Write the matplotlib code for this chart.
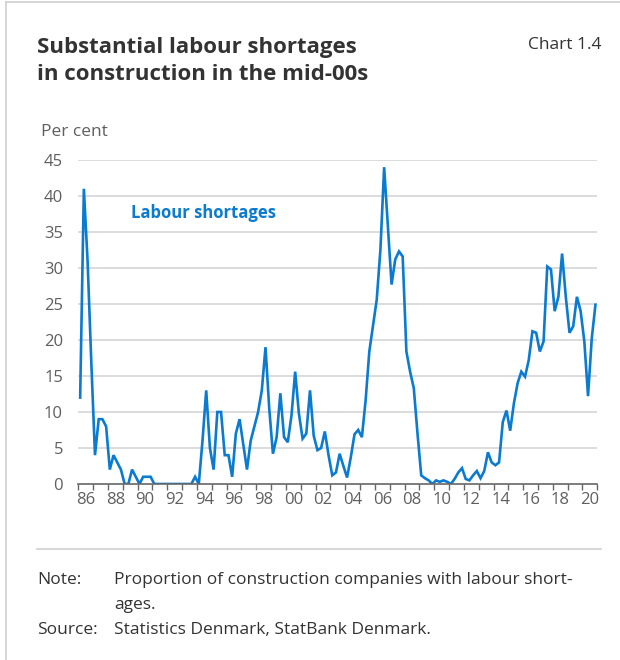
import numpy as np
import matplotlib.pyplot as plt
from matplotlib.lines import Line2D

plt.rcParams['font.family'] = ['Open Sans', 'DejaVu Sans']

# quarterly share of construction companies reporting labour shortages, 1986Q1-2020Q4
shortages = [
    12, 41, 31, 17,      # 1986
    4, 9, 9, 8,          # 1987
    2, 4, 3, 2,          # 1988
    0, 0, 2, 1,          # 1989
    0, 1, 1, 1,          # 1990
    0, 0, 0, 0,          # 1991
    0, 0, 0, 0,          # 1992
    0, 0, 0, 1,          # 1993
    0, 6, 13, 5,         # 1994
    2, 10, 10, 4,        # 1995
    4, 1, 7, 9,          # 1996
    5.5, 2, 6, 8,        # 1997
    10, 13, 19, 10.5,    # 1998
    4.2, 6.5, 12.6, 6.5, # 1999
    5.8, 9.5, 15.6, 9.8, # 2000
    6.3, 7, 13, 6.7,     # 2001
    4.7, 5, 7.3, 4,      # 2002
    1.2, 1.6, 4.2, 2.5,  # 2003
    0.9, 3.7, 6.9, 7.5,  # 2004
    6.5, 11.6, 18.4, 22, # 2005
    25.6, 32.6, 44, 35.8,  # 2006
    27.7, 31.2, 32.3, 31.6,  # 2007
    18.4, 15.6, 13.3, 7,   # 2008
    1.2, 0.8, 0.5, 0,      # 2009
    0.5, 0.3, 0.5, 0.3,    # 2010
    0, 0.7, 1.6, 2.2,      # 2011
    0.7, 0.5, 1.2, 1.8,    # 2012
    0.8, 1.8, 4.4, 3,      # 2013
    2.6, 3, 8.6, 10.2,     # 2014
    7.4, 11.2, 14, 15.6,   # 2015
    14.9, 17.2, 21.2, 21,  # 2016
    18.4, 19.8, 30.2, 29.8,  # 2017
    24, 26, 32, 26,        # 2018
    21, 21.9, 26, 24,      # 2019
    19.8, 12.2, 20.2, 24.9,  # 2020
]
start_year = 1986
end_year = 2021
y_ticks = [0, 5, 10, 15, 20, 25, 30, 35, 40, 45]

blue = '#0a7bd0'
grey_txt = '#5f5f5f'
dark = '#333333'

x = start_year + (np.arange(len(shortages)) + 0.5) / 4

fig = plt.figure(figsize=(6.2, 6.6), dpi=100)
ax = fig.add_axes([0.1263, 0.2667, 0.8371, 0.4909])

for v in y_ticks[1:]:
    ax.axhline(v, color='#d9d9d9', lw=1.3, zorder=0)
ax.plot(x, shortages, color=blue, lw=1.9, solid_joinstyle='miter', zorder=3)

ax.set_xlim(start_year, end_year)
ax.set_ylim(0, 45)
ax.set_yticks(y_ticks)
ax.set_xticks(np.arange(start_year, end_year + 1))
ax.set_xticklabels([])
mid = np.arange(start_year, end_year, 2) + 0.5
ax.set_xticks(mid, minor=True)
ax.set_xticklabels(['%02d' % (int(m) % 100) for m in mid], minor=True)
ax.tick_params(axis='x', which='major', length=4, width=1, color='#666666', direction='out')
ax.tick_params(axis='x', which='minor', length=0, pad=6, labelsize=12, labelcolor=grey_txt)
ax.tick_params(axis='y', length=0, pad=11, labelsize=12, labelcolor=grey_txt)
for s in ['top', 'right', 'left']:
    ax.spines[s].set_visible(False)
ax.spines['bottom'].set_color('#666666')
ax.spines['bottom'].set_linewidth(1.2)
ax.spines['bottom'].set_zorder(4)

ax.text(1989.55, 37.6, 'Labour shortages', color=blue, fontsize=12, fontweight='bold', va='center')

fig.text(37 / 620, 1 - 47 / 660, 'Substantial labour shortages',
         fontsize=16, fontweight='bold', color=dark, va='center', ha='left')
fig.text(37 / 620, 1 - 74 / 660, 'in construction in the mid-00s',
         fontsize=16, fontweight='bold', color=dark, va='center', ha='left')
fig.text(601 / 620, 1 - 45 / 660, 'Chart 1.4', fontsize=12.5, color=dark, ha='right', va='center')
fig.text(41 / 620, 1 - 132 / 660, 'Per cent', fontsize=12.5, color=grey_txt, ha='left', va='center')

fig.add_artist(Line2D([37 / 620, 601 / 620], [1 - 549 / 660] * 2, color='#d0d0d0', lw=1.2))
fig.add_artist(Line2D([6 / 620, 6 / 620], [0, 1 - 2 / 660], color='#d0d0d0', lw=1.2))
fig.add_artist(Line2D([6 / 620, 1], [1 - 2 / 660] * 2, color='#d0d0d0', lw=1.2))

fig.text(37 / 620, 1 - 580 / 660, 'Note:', fontsize=12.5, color=dark, va='center')
fig.text(114 / 620, 1 - 580 / 660, 'Proportion of construction companies with labour short-',
         fontsize=12.5, color=dark, va='center')
fig.text(114 / 620, 1 - 605 / 660, 'ages.', fontsize=12.5, color=dark, va='center')
fig.text(37 / 620, 1 - 630 / 660, 'Source:', fontsize=12.5, color=dark, va='center')
fig.text(114 / 620, 1 - 630 / 660, 'Statistics Denmark, StatBank Denmark.', fontsize=12.5,
         color=dark, va='center')

fig.savefig('out.png', dpi=100, facecolor='white')
